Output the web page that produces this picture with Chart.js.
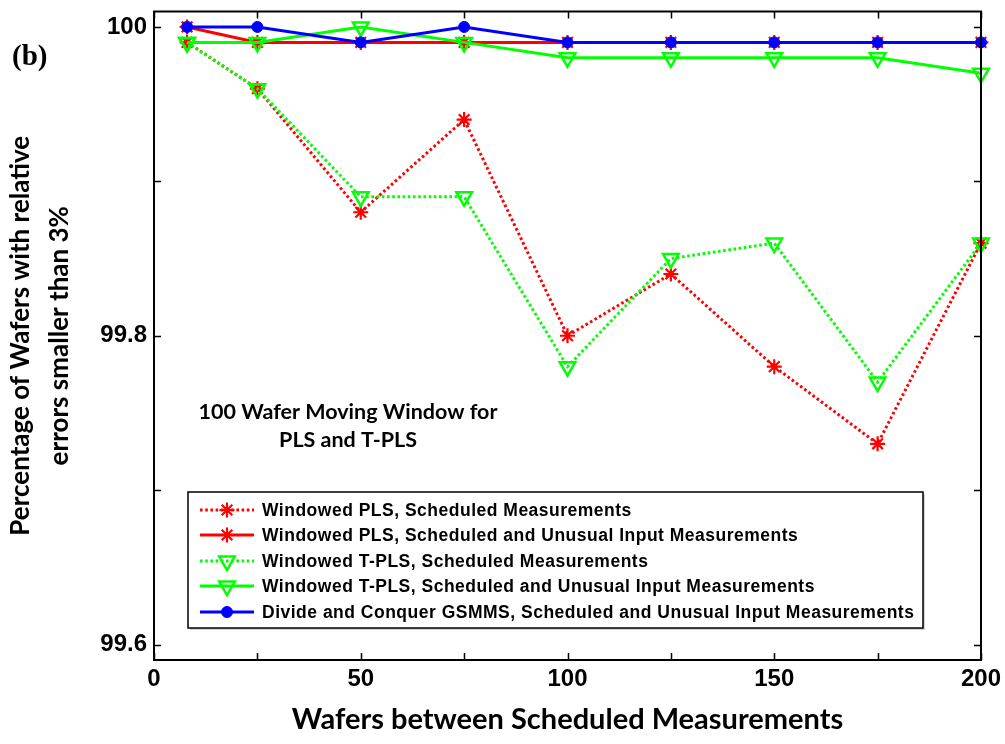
<!DOCTYPE html>
<html>
<head>
<meta charset="utf-8">
<title>Windowed PLS / T-PLS vs GSMMS</title>
<script src="https://cdn.jsdelivr.net/npm/chart.js@4.4.0/dist/chart.umd.min.js"></script>
<style>
  html, body { margin: 0; padding: 0; background: #fff; }
  #wrap { width: 1005px; height: 744px; position: relative; }
</style>
</head>
<body>
<div id="wrap"><canvas id="chart" width="1005" height="744"></canvas></div>
<script>
// Wafers between scheduled measurements
const wafers = [8, 25, 50, 75, 100, 125, 150, 175, 200];

// Percentage of wafers with relative errors below 3%
const plsScheduled   = [99.99, 99.96, 99.88, 99.94, 99.80, 99.84, 99.78, 99.73, 99.86];
const plsUnusual     = [100.00, 99.99, 99.99, 99.99, 99.99, 99.99, 99.99, 99.99, 99.99];
const tplsScheduled  = [99.99, 99.96, 99.89, 99.89, 99.78, 99.85, 99.86, 99.77, 99.86];
const tplsUnusual    = [99.99, 99.99, 100.00, 99.99, 99.98, 99.98, 99.98, 99.98, 99.97];
const gsmmsUnusual   = [100.00, 100.00, 99.99, 100.00, 99.99, 99.99, 99.99, 99.99, 99.99];

const seriesNames = [
  'Windowed PLS, Scheduled Measurements',
  'Windowed PLS, Scheduled and Unusual Input Measurements',
  'Windowed T-PLS, Scheduled Measurements',
  'Windowed T-PLS, Scheduled and Unusual Input Measurements',
  'Divide and Conquer GSMMS, Scheduled and Unusual Input Measurements'
];

const xTicks      = [0, 25, 50, 75, 100, 125, 150, 175, 200];
const xTickLabels = ['0', '', '50', '', '100', '', '150', '', '200'];
const yTicks      = [99.6, 99.7, 99.8, 99.9, 100];
const yTickLabels = ['99.6', '', '99.8', '', '100'];

const xTitle = 'Wafers between Scheduled Measurements';
const yTitle = ['Percentage of Wafers with relative', 'errors smaller than 3%'];
const noteLines = ['100 Wafer Moving Window for', 'PLS and T-PLS'];
const panelTag = '(b)';

const RED = '#ff0000', GREEN = '#00ff00', BLUE = '#0000ff';
const ARIAL = '"Liberation Sans", Arial, sans-serif';
const CALIBRI = 'Lato, "Open Sans", sans-serif';

const toPoints = ys => wafers.map((x, i) => ({ x, y: ys[i] }));

function lineSet(label, ys, color, dotted, marker, order) {
  const base = {
    label,
    data: toPoints(ys),
    borderColor: color,
    borderWidth: 3,
    borderDash: dotted ? [2.6, 2.6] : [],
    pointBorderColor: color,
    pointHoverRadius: 0,
    fill: false,
    tension: 0,
    clip: false,
    order
  };
  if (marker === 'star') {
    Object.assign(base, { pointStyle: 'star', pointRadius: 7.5, pointBorderWidth: 2.2, pointBackgroundColor: color, pointRotation: 0 });
  } else if (marker === 'tri') {
    Object.assign(base, { pointStyle: 'triangle', pointRadius: 9, pointBorderWidth: 2.5, pointBackgroundColor: 'rgba(0,0,0,0)', pointRotation: 180 });
  } else {
    Object.assign(base, { pointStyle: 'circle', pointRadius: 5.5, pointBorderWidth: 1, pointBackgroundColor: color, pointRotation: 0 });
  }
  return base;
}

// Box, inward tick marks, legend block and free text
const framePlugin = {
  id: 'frame',
  afterDatasetsDraw(chart) {
    const { ctx, chartArea: a, scales } = chart;
    ctx.save();
    ctx.strokeStyle = '#000';
    ctx.lineWidth = 1.5;
    ctx.setLineDash([]);
    const tl = 7;
    ctx.beginPath();
    xTicks.forEach(v => {
      const px = Math.round(scales.x.getPixelForValue(v)) + 0.5;
      ctx.moveTo(px, a.bottom); ctx.lineTo(px, a.bottom - tl);
      ctx.moveTo(px, a.top); ctx.lineTo(px, a.top + tl);
    });
    yTicks.forEach(v => {
      const py = Math.round(scales.y.getPixelForValue(v)) + 0.5;
      ctx.moveTo(a.left, py); ctx.lineTo(a.left + tl, py);
      ctx.moveTo(a.right, py); ctx.lineTo(a.right - tl, py);
    });
    ctx.stroke();
    ctx.lineWidth = 2;
    ctx.strokeRect(a.left, a.top, a.right - a.left, a.bottom - a.top);

    // note text inside the axes
    ctx.fillStyle = '#000';
    ctx.font = 'bold 21.5px ' + CALIBRI;
    ctx.textAlign = 'center';
    ctx.textBaseline = 'middle';
    ctx.fillText(noteLines[0], 348, 412);
    ctx.fillText(noteLines[1], 348, 440);

    // legend block
    const L = { x: 188, y: 492, w: 735, h: 136 };
    ctx.fillStyle = 'rgba(0,0,0,0.18)';
    ctx.fillRect(L.x + 2, L.y + 2, L.w, L.h);
    ctx.fillStyle = '#fff';
    ctx.fillRect(L.x, L.y, L.w, L.h);
    ctx.lineWidth = 1.5;
    ctx.strokeStyle = '#000';
    ctx.strokeRect(L.x, L.y, L.w, L.h);
    const rows = [510, 535, 561, 586, 612];
    chart.data.datasets.forEach((ds, i) => {
      const y = rows[i];
      ctx.save();
      ctx.strokeStyle = ds.borderColor;
      ctx.lineWidth = ds.borderWidth;
      ctx.setLineDash(ds.borderDash);
      ctx.beginPath();
      ctx.moveTo(200, y); ctx.lineTo(254, y);
      ctx.stroke();
      ctx.setLineDash([]);
      ctx.strokeStyle = ds.pointBorderColor;
      ctx.fillStyle = ds.pointBackgroundColor;
      ctx.lineWidth = ds.pointBorderWidth;
      Chart.helpers.drawPoint(ctx, {
        pointStyle: ds.pointStyle,
        rotation: ds.pointRotation,
        radius: ds.pointRadius,
        borderWidth: ds.pointBorderWidth
      }, 227, y);
      ctx.restore();
      ctx.save();
      ctx.fillStyle = '#000';
      ctx.font = 'bold 17.5px ' + ARIAL;
      if ('letterSpacing' in ctx) ctx.letterSpacing = '0.5px';
      ctx.textAlign = 'left';
      ctx.textBaseline = 'middle';
      ctx.fillText(ds.label, 262, y + 1);
      ctx.restore();
    });

    // panel tag
    ctx.fillStyle = '#000';
    ctx.font = 'bold 29px "Liberation Serif", "Times New Roman", serif';
    ctx.textAlign = 'left';
    ctx.textBaseline = 'middle';
    ctx.fillText(panelTag, 12, 58);
    ctx.restore();
  }
};

const datasets = [
  lineSet(seriesNames[0], plsScheduled,  RED,   true,  'star', 5),
  lineSet(seriesNames[1], plsUnusual,    RED,   false, 'star', 4),
  lineSet(seriesNames[2], tplsScheduled, GREEN, true,  'tri',  3),
  lineSet(seriesNames[3], tplsUnusual,   GREEN, false, 'tri',  2),
  lineSet(seriesNames[4], gsmmsUnusual,  BLUE,  false, 'dot',  1)
];

new Chart(document.getElementById('chart'), {
  type: 'line',
  data: { datasets },
  plugins: [framePlugin],
  options: {
    responsive: false,
    animation: false,
    devicePixelRatio: 1,
    layout: { padding: { top: 7, right: 24, left: 0, bottom: 0 } },
    plugins: { legend: { display: false }, tooltip: { enabled: false } },
    events: [],
    scales: {
      x: {
        type: 'linear',
        min: 0,
        max: 200,
        afterBuildTicks: s => { s.ticks = xTicks.map(v => ({ value: v })); },
        afterFit: s => { s.height = 84; s.paddingLeft = 0; s.paddingRight = 0; },
        grid: { display: false, drawTicks: false },
        border: { display: false },
        ticks: {
          autoSkip: false, maxRotation: 0, padding: 5, color: '#000',
          font: { family: ARIAL, size: 24, weight: 'bold' },
          callback: (v, i) => xTickLabels[i]
        },
        title: {
          display: true, text: xTitle, color: '#000',
          font: { family: CALIBRI, size: 29, weight: 'bold', lineHeight: 1.2 },
          padding: { top: 0, bottom: 7 }
        }
      },
      y: {
        type: 'linear',
        min: 99.59,
        max: 100.01,
        afterBuildTicks: s => { s.ticks = yTicks.map(v => ({ value: v })); },
        afterFit: s => { s.width = 154; s.paddingTop = 0; s.paddingBottom = 0; },
        grid: { display: false, drawTicks: false },
        border: { display: false },
        ticks: {
          autoSkip: false, padding: 7, color: '#000',
          font: { family: ARIAL, size: 24, weight: 'bold' },
          callback: (v, i) => yTickLabels[i]
        },
        title: {
          display: true, text: yTitle, color: '#000',
          font: { family: CALIBRI, size: 26, weight: 'bold', lineHeight: 1.5 },
          padding: { top: 1, bottom: 0 }
        }
      }
    }
  }
});
</script>
</body>
</html>
